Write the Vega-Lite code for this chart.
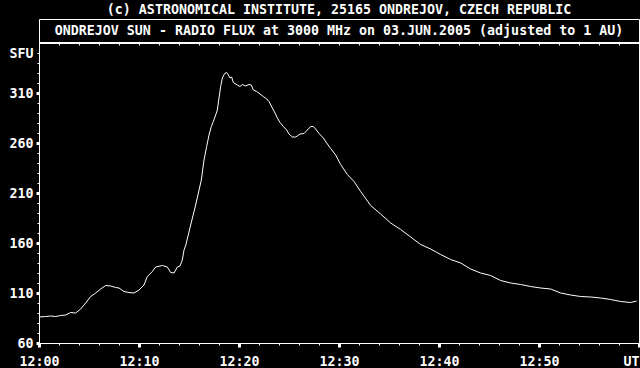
{
  "$schema": "https://vega.github.io/schema/vega-lite/v6.json",
  "background": "black",
  "padding": {"left": 8, "top": 2, "right": 1, "bottom": 2},
  "width": 600,
  "height": 324,
  "title": {"text": "(c) ASTRONOMICAL INSTITUTE, 25165 ONDREJOV, CZECH REPUBLIC", "anchor": "middle", "frame": "group", "offset": 3, "color": "white", "font": "DejaVu Sans Mono", "fontSize": 13.3, "fontWeight": "bold"},
  "config": {
    "view": {"stroke": "white", "strokeWidth": 1},
    "axis": {"labelFont": "DejaVu Sans Mono", "labelFontSize": 13.3, "labelColor": "white", "labelFontWeight": "bold", "tickColor": "white", "grid": false, "labelFlush": false, "labelOverlap": false, "labelBound": false, "domain": false}
  },
  "data": {"values": [
    {"time": "2005-06-03T12:00:00", "sfu": 86},
    {"time": "2005-06-03T12:00:40", "sfu": 86.5},
    {"time": "2005-06-03T12:01:10", "sfu": 87},
    {"time": "2005-06-03T12:01:40", "sfu": 86.5},
    {"time": "2005-06-03T12:02:10", "sfu": 87.5},
    {"time": "2005-06-03T12:02:40", "sfu": 88},
    {"time": "2005-06-03T12:03:10", "sfu": 90.5},
    {"time": "2005-06-03T12:03:40", "sfu": 90},
    {"time": "2005-06-03T12:04:10", "sfu": 94},
    {"time": "2005-06-03T12:04:40", "sfu": 100},
    {"time": "2005-06-03T12:05:10", "sfu": 106.5},
    {"time": "2005-06-03T12:05:40", "sfu": 110},
    {"time": "2005-06-03T12:06:10", "sfu": 114},
    {"time": "2005-06-03T12:06:40", "sfu": 117.5},
    {"time": "2005-06-03T12:07:10", "sfu": 117},
    {"time": "2005-06-03T12:07:40", "sfu": 115.5},
    {"time": "2005-06-03T12:08:00", "sfu": 115},
    {"time": "2005-06-03T12:08:30", "sfu": 111.5},
    {"time": "2005-06-03T12:09:00", "sfu": 110.5},
    {"time": "2005-06-03T12:09:30", "sfu": 110},
    {"time": "2005-06-03T12:10:00", "sfu": 113},
    {"time": "2005-06-03T12:10:30", "sfu": 118},
    {"time": "2005-06-03T12:10:50", "sfu": 126.5},
    {"time": "2005-06-03T12:11:20", "sfu": 131.5},
    {"time": "2005-06-03T12:11:40", "sfu": 136},
    {"time": "2005-06-03T12:12:20", "sfu": 137.5},
    {"time": "2005-06-03T12:12:50", "sfu": 136},
    {"time": "2005-06-03T12:13:10", "sfu": 130.5},
    {"time": "2005-06-03T12:13:30", "sfu": 130},
    {"time": "2005-06-03T12:13:50", "sfu": 136},
    {"time": "2005-06-03T12:14:06", "sfu": 137},
    {"time": "2005-06-03T12:14:20", "sfu": 143},
    {"time": "2005-06-03T12:14:30", "sfu": 153},
    {"time": "2005-06-03T12:14:41", "sfu": 158},
    {"time": "2005-06-03T12:15:10", "sfu": 178},
    {"time": "2005-06-03T12:15:40", "sfu": 198},
    {"time": "2005-06-03T12:16:14", "sfu": 223},
    {"time": "2005-06-03T12:16:30", "sfu": 243},
    {"time": "2005-06-03T12:16:46", "sfu": 256.5},
    {"time": "2005-06-03T12:17:00", "sfu": 268},
    {"time": "2005-06-03T12:17:14", "sfu": 276.5},
    {"time": "2005-06-03T12:17:26", "sfu": 281.5},
    {"time": "2005-06-03T12:17:40", "sfu": 288},
    {"time": "2005-06-03T12:17:50", "sfu": 293},
    {"time": "2005-06-03T12:18:00", "sfu": 305},
    {"time": "2005-06-03T12:18:10", "sfu": 316.5},
    {"time": "2005-06-03T12:18:20", "sfu": 325},
    {"time": "2005-06-03T12:18:34", "sfu": 329.5},
    {"time": "2005-06-03T12:18:46", "sfu": 330.5},
    {"time": "2005-06-03T12:18:56", "sfu": 328},
    {"time": "2005-06-03T12:19:06", "sfu": 325},
    {"time": "2005-06-03T12:19:16", "sfu": 326},
    {"time": "2005-06-03T12:19:26", "sfu": 320.5},
    {"time": "2005-06-03T12:19:50", "sfu": 318},
    {"time": "2005-06-03T12:20:06", "sfu": 316.5},
    {"time": "2005-06-03T12:20:20", "sfu": 318.5},
    {"time": "2005-06-03T12:20:40", "sfu": 317},
    {"time": "2005-06-03T12:21:00", "sfu": 318.5},
    {"time": "2005-06-03T12:21:14", "sfu": 318},
    {"time": "2005-06-03T12:21:26", "sfu": 313},
    {"time": "2005-06-03T12:21:46", "sfu": 311.5},
    {"time": "2005-06-03T12:22:06", "sfu": 309},
    {"time": "2005-06-03T12:22:26", "sfu": 306.5},
    {"time": "2005-06-03T12:22:46", "sfu": 304},
    {"time": "2005-06-03T12:23:00", "sfu": 301.5},
    {"time": "2005-06-03T12:23:20", "sfu": 295},
    {"time": "2005-06-03T12:23:36", "sfu": 290},
    {"time": "2005-06-03T12:23:50", "sfu": 285},
    {"time": "2005-06-03T12:24:06", "sfu": 280.5},
    {"time": "2005-06-03T12:24:26", "sfu": 276.5},
    {"time": "2005-06-03T12:24:46", "sfu": 273},
    {"time": "2005-06-03T12:25:00", "sfu": 269},
    {"time": "2005-06-03T12:25:20", "sfu": 266},
    {"time": "2005-06-03T12:25:40", "sfu": 266},
    {"time": "2005-06-03T12:25:54", "sfu": 267.5},
    {"time": "2005-06-03T12:26:06", "sfu": 269},
    {"time": "2005-06-03T12:26:30", "sfu": 269.5},
    {"time": "2005-06-03T12:26:50", "sfu": 273},
    {"time": "2005-06-03T12:27:10", "sfu": 276.5},
    {"time": "2005-06-03T12:27:26", "sfu": 276.5},
    {"time": "2005-06-03T12:27:40", "sfu": 274},
    {"time": "2005-06-03T12:28:00", "sfu": 269.5},
    {"time": "2005-06-03T12:28:26", "sfu": 265},
    {"time": "2005-06-03T12:28:46", "sfu": 260},
    {"time": "2005-06-03T12:29:10", "sfu": 254.5},
    {"time": "2005-06-03T12:29:40", "sfu": 248},
    {"time": "2005-06-03T12:30:10", "sfu": 238.5},
    {"time": "2005-06-03T12:30:50", "sfu": 228.5},
    {"time": "2005-06-03T12:31:30", "sfu": 221.5},
    {"time": "2005-06-03T12:32:10", "sfu": 211.5},
    {"time": "2005-06-03T12:33:10", "sfu": 197.5},
    {"time": "2005-06-03T12:34:10", "sfu": 189},
    {"time": "2005-06-03T12:35:10", "sfu": 180},
    {"time": "2005-06-03T12:36:10", "sfu": 173.5},
    {"time": "2005-06-03T12:37:10", "sfu": 166},
    {"time": "2005-06-03T12:38:10", "sfu": 158.5},
    {"time": "2005-06-03T12:39:10", "sfu": 154},
    {"time": "2005-06-03T12:40:10", "sfu": 148.5},
    {"time": "2005-06-03T12:41:10", "sfu": 143.5},
    {"time": "2005-06-03T12:42:10", "sfu": 140},
    {"time": "2005-06-03T12:43:10", "sfu": 134},
    {"time": "2005-06-03T12:44:10", "sfu": 130},
    {"time": "2005-06-03T12:45:10", "sfu": 127.5},
    {"time": "2005-06-03T12:46:10", "sfu": 122.5},
    {"time": "2005-06-03T12:47:10", "sfu": 120},
    {"time": "2005-06-03T12:48:10", "sfu": 118.5},
    {"time": "2005-06-03T12:49:10", "sfu": 116.5},
    {"time": "2005-06-03T12:50:10", "sfu": 115},
    {"time": "2005-06-03T12:51:10", "sfu": 114},
    {"time": "2005-06-03T12:52:10", "sfu": 110},
    {"time": "2005-06-03T12:53:10", "sfu": 108},
    {"time": "2005-06-03T12:54:10", "sfu": 106.5},
    {"time": "2005-06-03T12:55:10", "sfu": 106},
    {"time": "2005-06-03T12:56:10", "sfu": 105},
    {"time": "2005-06-03T12:57:10", "sfu": 103.5},
    {"time": "2005-06-03T12:58:10", "sfu": 101.5},
    {"time": "2005-06-03T12:59:10", "sfu": 100.5},
    {"time": "2005-06-03T12:59:46", "sfu": 102}
  ]},
  "layer": [
    {
      "mark": {"type": "line", "color": "white", "strokeWidth": 1, "clip": true},
      "encoding": {
        "x": {"field": "time", "type": "temporal", "title": null,
          "scale": {"domain": [{"year": 2005, "month": 6, "date": 3, "hours": 12, "minutes": 0}, {"year": 2005, "month": 6, "date": 3, "hours": 13, "minutes": 0}], "nice": false},
          "axis": {"orient": "bottom", "format": "%H:%M", "values": [
            {"year": 2005, "month": 6, "date": 3, "hours": 12, "minutes": 0},
            {"year": 2005, "month": 6, "date": 3, "hours": 12, "minutes": 10},
            {"year": 2005, "month": 6, "date": 3, "hours": 12, "minutes": 20},
            {"year": 2005, "month": 6, "date": 3, "hours": 12, "minutes": 30},
            {"year": 2005, "month": 6, "date": 3, "hours": 12, "minutes": 40},
            {"year": 2005, "month": 6, "date": 3, "hours": 12, "minutes": 50}],
            "tickSize": 4, "tickWidth": 3, "labelPadding": 7}},
        "y": {"field": "sfu", "type": "quantitative", "title": null,
          "scale": {"domain": [60, 384], "nice": false, "zero": false},
          "axis": {"orient": "left", "values": [60, 110, 160, 210, 260, 310], "tickSize": 3, "tickWidth": 3, "labelPadding": 3}}
      }
    },
    {
      "mark": {"type": "line", "opacity": 0},
      "encoding": {
        "x": {"field": "time", "type": "temporal", "title": null,
          "axis": {"orient": "bottom", "labels": false, "tickSize": 2, "tickWidth": 1, "values": [
            {"year": 2005, "month": 6, "date": 3, "hours": 12, "minutes": 2},
            {"year": 2005, "month": 6, "date": 3, "hours": 12, "minutes": 4},
            {"year": 2005, "month": 6, "date": 3, "hours": 12, "minutes": 6},
            {"year": 2005, "month": 6, "date": 3, "hours": 12, "minutes": 8},
            {"year": 2005, "month": 6, "date": 3, "hours": 12, "minutes": 12},
            {"year": 2005, "month": 6, "date": 3, "hours": 12, "minutes": 14},
            {"year": 2005, "month": 6, "date": 3, "hours": 12, "minutes": 16},
            {"year": 2005, "month": 6, "date": 3, "hours": 12, "minutes": 18},
            {"year": 2005, "month": 6, "date": 3, "hours": 12, "minutes": 22},
            {"year": 2005, "month": 6, "date": 3, "hours": 12, "minutes": 24},
            {"year": 2005, "month": 6, "date": 3, "hours": 12, "minutes": 26},
            {"year": 2005, "month": 6, "date": 3, "hours": 12, "minutes": 28},
            {"year": 2005, "month": 6, "date": 3, "hours": 12, "minutes": 32},
            {"year": 2005, "month": 6, "date": 3, "hours": 12, "minutes": 34},
            {"year": 2005, "month": 6, "date": 3, "hours": 12, "minutes": 36},
            {"year": 2005, "month": 6, "date": 3, "hours": 12, "minutes": 38},
            {"year": 2005, "month": 6, "date": 3, "hours": 12, "minutes": 42},
            {"year": 2005, "month": 6, "date": 3, "hours": 12, "minutes": 44},
            {"year": 2005, "month": 6, "date": 3, "hours": 12, "minutes": 46},
            {"year": 2005, "month": 6, "date": 3, "hours": 12, "minutes": 48},
            {"year": 2005, "month": 6, "date": 3, "hours": 12, "minutes": 52},
            {"year": 2005, "month": 6, "date": 3, "hours": 12, "minutes": 54},
            {"year": 2005, "month": 6, "date": 3, "hours": 12, "minutes": 56},
            {"year": 2005, "month": 6, "date": 3, "hours": 12, "minutes": 58}]}},
        "y": {"field": "sfu", "type": "quantitative", "title": null,
          "axis": {"orient": "left", "values": [70, 80, 90, 100, 120, 130, 140, 150, 170, 180, 190, 200, 220, 230, 240, 250, 270, 280, 290, 300, 320, 330, 340, 350], "labelExpr": "datum.value == 350 ? 'SFU' : ''", "tickSize": 2, "tickWidth": 1, "labelPadding": 4}}
      }
    },
    {
      "mark": {"type": "line", "opacity": 0},
      "encoding": {
        "x": {"field": "time", "type": "temporal", "title": null,
          "axis": {"orient": "bottom", "labelExpr": "'UT'", "labelAlign": "right", "tickSize": 4, "tickWidth": 3, "labelPadding": 7, "values": [
            {"year": 2005, "month": 6, "date": 3, "hours": 13, "minutes": 0}]}},
        "y": {"field": "sfu", "type": "quantitative", "axis": null}
      }
    },
    {
      "mark": {"type": "line", "opacity": 0},
      "encoding": {
        "x": {"field": "time", "type": "temporal", "title": null,
          "axis": {"orient": "top", "labels": false, "tickSize": 2, "tickWidth": 1, "offset": -26, "values": [
            {"year": 2005, "month": 6, "date": 3, "hours": 12, "minutes": 2},
            {"year": 2005, "month": 6, "date": 3, "hours": 12, "minutes": 4},
            {"year": 2005, "month": 6, "date": 3, "hours": 12, "minutes": 6},
            {"year": 2005, "month": 6, "date": 3, "hours": 12, "minutes": 8},
            {"year": 2005, "month": 6, "date": 3, "hours": 12, "minutes": 10},
            {"year": 2005, "month": 6, "date": 3, "hours": 12, "minutes": 12},
            {"year": 2005, "month": 6, "date": 3, "hours": 12, "minutes": 14},
            {"year": 2005, "month": 6, "date": 3, "hours": 12, "minutes": 16},
            {"year": 2005, "month": 6, "date": 3, "hours": 12, "minutes": 18},
            {"year": 2005, "month": 6, "date": 3, "hours": 12, "minutes": 20},
            {"year": 2005, "month": 6, "date": 3, "hours": 12, "minutes": 22},
            {"year": 2005, "month": 6, "date": 3, "hours": 12, "minutes": 24},
            {"year": 2005, "month": 6, "date": 3, "hours": 12, "minutes": 26},
            {"year": 2005, "month": 6, "date": 3, "hours": 12, "minutes": 28},
            {"year": 2005, "month": 6, "date": 3, "hours": 12, "minutes": 30},
            {"year": 2005, "month": 6, "date": 3, "hours": 12, "minutes": 32},
            {"year": 2005, "month": 6, "date": 3, "hours": 12, "minutes": 34},
            {"year": 2005, "month": 6, "date": 3, "hours": 12, "minutes": 36},
            {"year": 2005, "month": 6, "date": 3, "hours": 12, "minutes": 38},
            {"year": 2005, "month": 6, "date": 3, "hours": 12, "minutes": 40},
            {"year": 2005, "month": 6, "date": 3, "hours": 12, "minutes": 42},
            {"year": 2005, "month": 6, "date": 3, "hours": 12, "minutes": 44},
            {"year": 2005, "month": 6, "date": 3, "hours": 12, "minutes": 46},
            {"year": 2005, "month": 6, "date": 3, "hours": 12, "minutes": 48},
            {"year": 2005, "month": 6, "date": 3, "hours": 12, "minutes": 50},
            {"year": 2005, "month": 6, "date": 3, "hours": 12, "minutes": 52},
            {"year": 2005, "month": 6, "date": 3, "hours": 12, "minutes": 54},
            {"year": 2005, "month": 6, "date": 3, "hours": 12, "minutes": 56},
            {"year": 2005, "month": 6, "date": 3, "hours": 12, "minutes": 58}]}},
        "y": {"field": "sfu", "type": "quantitative", "axis": null}
      }
    },
    {
      "mark": {"type": "rule", "color": "white", "strokeWidth": 1},
      "encoding": {
        "y": {"datum": 360, "type": "quantitative", "axis": null}
      }
    },
    {
      "data": {"values": [{"label": "ONDREJOV SUN - RADIO FLUX at 3000 MHz on 03.JUN.2005 (adjusted to 1 AU)"}]},
      "mark": {"type": "text", "color": "white", "font": "DejaVu Sans Mono", "fontSize": 13.3, "fontWeight": "bold"},
      "encoding": {
        "text": {"field": "label"},
        "x": {"datum": {"year": 2005, "month": 6, "date": 3, "hours": 12, "minutes": 30}, "type": "temporal", "axis": null},
        "y": {"datum": 372, "type": "quantitative", "axis": null}
      }
    }
  ],
  "resolve": {"axis": {"x": "independent", "y": "independent"}}
}
